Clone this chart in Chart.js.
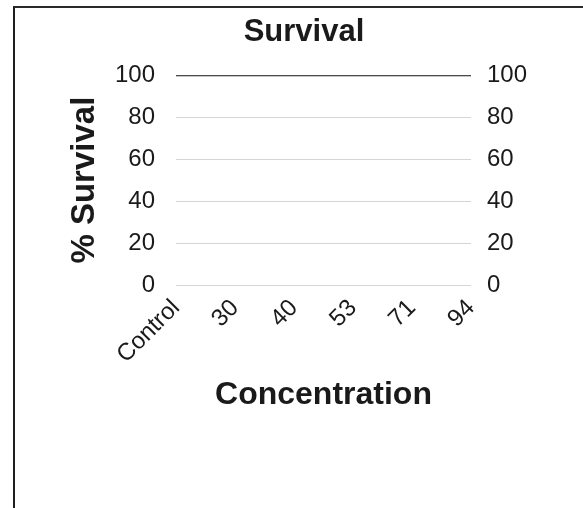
<!DOCTYPE html>
<html>
<head>
<meta charset="utf-8">
<script src="https://cdn.jsdelivr.net/npm/chart.js@4/dist/chart.umd.min.js"></script>
<style>
  html, body { margin: 0; padding: 0; background: #fff; }
  body { width: 583px; height: 508px; position: relative; overflow: hidden; }
  #frame { position: absolute; left: 13px; top: 6px; width: 580px; height: 520px;
           border-left: 2px solid #1e1e1e; border-top: 2px solid #2a2a2a; box-sizing: border-box; }
  #wrap { position: absolute; left: 0; top: 0; width: 583px; height: 508px; }
</style>
</head>
<body>
<div id="frame"></div>
<div id="wrap"><canvas id="c" width="583" height="508"></canvas></div>
<script>
const categories = ["Control", "30", "40", "53", "71", "94"];
const survival = [100, 100, 100, 100, 100, 100];
const yTicks = [0, 20, 40, 60, 80, 100];

const FONT = "'Liberation Sans', Arial, sans-serif";
const TEXT = "#1a1a1a";

new Chart(document.getElementById("c"), {
  type: "line",
  data: {
    labels: categories,
    datasets: [{
      label: "% Survival",
      data: survival,
      borderColor: "#1c1c1c",
      borderWidth: 2,
      pointRadius: 0,
      fill: false,
      tension: 0,
      yAxisID: "y"
    }]
  },
  options: {
    responsive: false,
    animation: false,
    devicePixelRatio: 1,
    layout: { padding: { left: 25, right: 0, top: 0, bottom: 0 } },
    plugins: {
      legend: { display: false },
      tooltip: { enabled: false },
      title: {
        display: true,
        text: "Survival",
        color: TEXT,
        font: { family: FONT, size: 31, weight: "bold", lineHeight: 1.2 },
        padding: { top: 14, bottom: 24 }
      }
    },
    scales: {
      x: {
        offset: false,
        grid: { display: false, drawTicks: false },
        border: { display: false },
        ticks: {
          color: TEXT,
          font: { family: FONT, size: 24 },
          minRotation: 45,
          maxRotation: 45,
          padding: 9,
          autoSkip: false
        },
        title: {
          display: true,
          text: "Concentration",
          color: TEXT,
          font: { family: FONT, size: 32, weight: "bold", lineHeight: 1.2 },
          padding: { top: 0, bottom: 94 }
        },
        afterFit(scale) { scale.height = 223; }
      },
      y: {
        position: "left",
        min: 0,
        max: 100,
        afterBuildTicks(scale) { scale.ticks = yTicks.map(v => ({ value: v })); },
        grid: { color: "#d4d4d4", lineWidth: 1, drawTicks: false },
        border: { display: false },
        ticks: {
          color: TEXT,
          font: { family: FONT, size: 24 },
          padding: 21
        },
        title: {
          display: true,
          text: "% Survival",
          color: TEXT,
          font: { family: FONT, size: 33, weight: "bold", lineHeight: 1.2 },
          padding: { top: 40, bottom: 0 }
        },
        afterFit(scale) { scale.width = 151; }
      },
      y2: {
        position: "right",
        min: 0,
        max: 100,
        afterBuildTicks(scale) { scale.ticks = yTicks.map(v => ({ value: v })); },
        grid: { display: false, drawTicks: false },
        border: { display: false },
        ticks: {
          color: TEXT,
          font: { family: FONT, size: 24 },
          padding: 16
        },
        afterFit(scale) { scale.width = 112; }
      }
    }
  }
});
</script>
</body>
</html>
